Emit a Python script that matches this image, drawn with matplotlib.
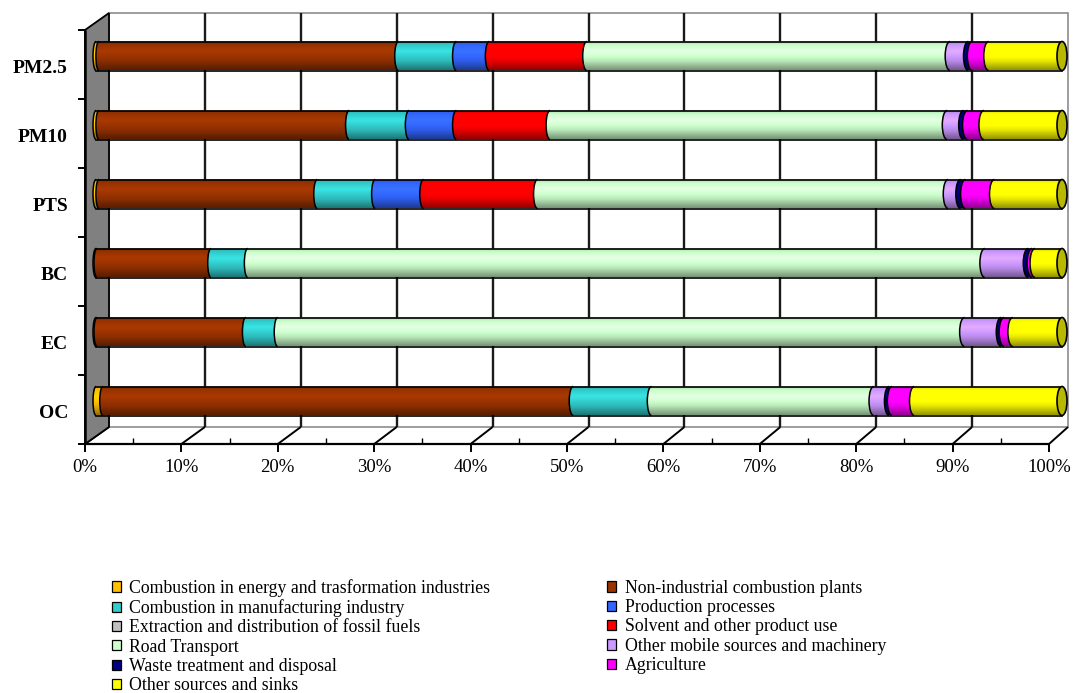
import numpy as np
import matplotlib
matplotlib.use('Agg')
import matplotlib.pyplot as plt
from matplotlib.patches import Polygon, Arc, Ellipse, Patch
from matplotlib.colors import to_rgb

plt.rcParams['font.family'] = 'serif'
plt.rcParams['font.serif'] = ['Liberation Serif', 'DejaVu Serif']

# rows from bottom to top
categories = ['OC', 'EC', 'BC', 'PTS', 'PM10', 'PM2.5']

sources = [
    'Combustion in energy and trasformation industries',
    'Non-industrial combustion plants',
    'Combustion in manufacturing industry',
    'Production processes',
    'Extraction and distribution of fossil fuels',
    'Solvent and other product use',
    'Road Transport',
    'Other mobile sources and machinery',
    'Waste treatment and disposal',
    'Agriculture',
    'Other sources and sinks',
]
colors = ['#FFC000', '#993300', '#33CCCC', '#3366FF', '#C0C0C0', '#FF0000',
          '#CCFFCC', '#CC99FF', '#000080', '#FF00FF', '#FFFF00']

# shares (%) per category, same order as categories
energy       = [0.7, 0.1, 0.1, 0.3, 0.3, 0.3]
non_ind      = [48.7, 15.4, 11.8, 22.6, 25.9, 31.0]
manufacturing = [8.1, 3.3, 3.8, 6.0, 6.2, 6.0]
production   = [0.0, 0.0, 0.0, 5.0, 4.9, 3.4]
extraction   = [0.0, 0.0, 0.0, 0.0, 0.0, 0.0]
solvent      = [0.0, 0.0, 0.0, 11.8, 9.7, 10.1]
road         = [23.0, 71.1, 76.3, 42.5, 41.1, 37.6]
other_mobile = [1.6, 3.8, 4.5, 1.3, 1.7, 1.9]
waste        = [0.3, 0.3, 0.4, 0.5, 0.4, 0.4]
agriculture  = [2.3, 0.9, 0.3, 3.0, 1.7, 1.7]
other_src    = [15.3, 5.1, 2.8, 7.0, 8.1, 7.6]

series = [energy, non_ind, manufacturing, production, extraction, solvent,
          road, other_mobile, waste, agriculture, other_src]

W, H = 1074, 693
fig = plt.figure(figsize=(W / 100, H / 100), dpi=100)

# bar plane (middle of the 3D box), pixel layout
x0, x100 = 96, 1062
ppu = (x100 - x0) / 100.0          # px per percent
row_px = 69.0                      # px per category
xlo, xhi = -3, 103
ylo, yhi = -0.5, len(categories) - 0.5
ax = fig.add_axes([(x0 + xlo * ppu) / W, (H - 435.5) / H,
                   (xhi - xlo) * ppu / W, row_px * len(categories) / H])
ax.axis('off')

def plane_pt(p, y, px0, px100, dy):
    x = (px0 + p * (px100 - px0) / 100.0 - x0) / ppu
    return x, y + dy / row_px

def front(p, y):
    return plane_pt(p, y, 85, 1049, -8.5)

def back(p, y):
    return plane_pt(p, y, 109, 1068, 8.5)

def line(a, b, **kw):
    ax.plot([a[0], b[0]], [a[1], b[1]], clip_on=False, solid_capstyle='butt', **kw)

# back wall with gridlines
ax.add_patch(Polygon([back(0, ylo), back(100, ylo), back(100, yhi), back(0, yhi)],
                     closed=True, facecolor='white', edgecolor='#8c8c8c', lw=1.2,
                     clip_on=False, zorder=0))
for p in range(10, 100, 10):
    line(back(p, ylo), back(p, yhi), color='#1a1a1a', lw=1.7, zorder=1)

# floor
for p in range(0, 101, 10):
    line(front(p, ylo), back(p, ylo), color='black', lw=1.4, zorder=1)

# left wall
ax.add_patch(Polygon([front(0, ylo), front(0, yhi), back(0, yhi), back(0, ylo)],
                     closed=True, facecolor='#808080', edgecolor='black', lw=1.3,
                     clip_on=False, zorder=1))

# front axes with ticks
line(front(0, ylo), front(100, ylo), color='black', lw=1.6, zorder=2)
line(front(0, ylo), front(0, yhi), color='black', lw=1.8, zorder=2)
major = [front(p, ylo) for p in range(0, 101, 10)]
minor = [front(p, ylo) for p in range(5, 100, 10)]
ax.plot(*zip(*major), ls='none', marker=3, ms=6, mew=1.4, color='black', clip_on=False)
ax.plot(*zip(*minor), ls='none', marker=2, ms=4, mew=1.0, color='black', clip_on=False)
rowt = [front(0, k - 0.5) for k in range(len(categories) + 1)]
ax.plot(*zip(*rowt), ls='none', marker=0, ms=5, mew=1.4, color='black', clip_on=False)

for p in range(0, 101, 10):
    x, y = front(p, ylo)
    ax.text(x, y - 24 / row_px, f'{p}%', ha='center', va='center', fontsize=13.5)
for i, name in enumerate(categories):
    x, y = front(0, i)
    ax.text(x - 17 / ppu, y - 4 / row_px, name, ha='right', va='center',
            fontsize=14, fontweight='bold')

# cylinders
hh = 14.5 / row_px
th = np.linspace(0, np.pi, 30)
prof_t = np.linspace(0, 1, 48)
prof_f = np.interp(prof_t, [0, 0.1, 0.35, 0.7, 1.0], [0.8, 0.97, 1.12, 0.9, 0.58])

def bulge(p):
    return (3.0 + 2.0 * p / 100.0) / ppu

totals = np.sum(series, axis=0)
for i in range(len(categories)):
    left = 0.0
    last = None
    for k, vals in enumerate(series):
        v = vals[i] / totals[i] * 100.0
        if v <= 0:
            continue
        a, b = left, left + v
        wa = bulge(a)
        verts = list(zip(a - wa * np.sin(th), i + hh * np.cos(th))) + [(b, i - hh), (b, i + hh)]
        poly = Polygon(verts, closed=True, facecolor='none', edgecolor='none')
        ax.add_patch(poly)
        grad = np.clip(np.outer(prof_f, to_rgb(colors[k])), 0, 1)[:, None, :]
        im = ax.imshow(grad, extent=(a - wa, b, i - hh, i + hh), aspect='auto',
                       interpolation='bilinear', zorder=3)
        im.set_clip_path(poly)
        ax.add_patch(Arc((a, i), 2 * wa, 2 * hh, theta1=90, theta2=270,
                         color='black', lw=1.1, zorder=4))
        left = b
        last = k
    ax.plot([0, 100], [i + hh, i + hh], color='black', lw=1.2, zorder=4)
    ax.plot([0, 100], [i - hh, i - hh], color='black', lw=1.2, zorder=4)
    cap = np.clip(np.array(to_rgb(colors[last])) * 0.72, 0, 1)
    ax.add_patch(Ellipse((100, i), 2 * bulge(100), 2 * hh, facecolor=cap,
                         edgecolor='black', lw=1.2, zorder=5))

ax.set_xlim(xlo, xhi)
ax.set_ylim(ylo, yhi)

# legend, filled row by row in two columns
handles = [Patch(facecolor=c, edgecolor='black', lw=0.9) for c in colors]
order = list(range(0, len(sources), 2)) + list(range(1, len(sources), 2))
fig.legend([handles[j] for j in order], [sources[j] for j in order], ncol=2,
           loc='upper left', bbox_to_anchor=(112 / W, (H - 579) / H),
           frameon=False, fontsize=12.75, handlelength=0.51, handleheight=0.51,
           handletextpad=0.47, columnspacing=6.6, labelspacing=0.13,
           borderpad=0, borderaxespad=0)

fig.savefig('out.png', dpi=100)
